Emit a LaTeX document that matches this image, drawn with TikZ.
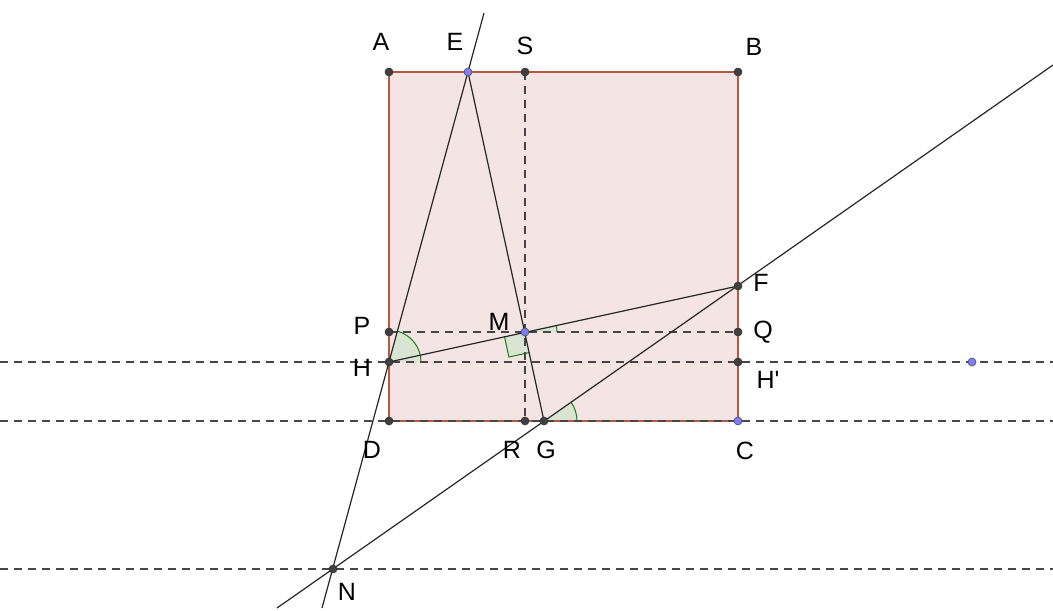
\documentclass[tikz,border=0pt]{standalone}
\usepackage{fontspec}
\setmainfont{Liberation Sans}[Ligatures=TeXOff]
\usetikzlibrary{calc}
\definecolor{sqfill}{RGB}{244,229,228}
\definecolor{sqedge}{RGB}{185,88,66}
\definecolor{angfill}{RGB}{218,228,210}
\definecolor{angedge}{RGB}{20,130,20}
\definecolor{ptdark}{RGB}{64,64,64}
\definecolor{ptblue}{RGB}{125,125,255}
\definecolor{dashcol}{RGB}{70,70,70}
\begin{document}
\begin{tikzpicture}[x=0.5pt,y=-0.5pt,
  thin line/.style={line width=0.6pt,black!85},
  dline/.style={line width=0.6pt,dashcol,dash pattern=on 4pt off 3pt},
  dpt/.style={circle,fill=ptdark,draw=black!80,line width=0.3pt,inner sep=0pt,minimum size=4pt},
  bpt/.style={circle,fill=ptblue,draw=black!70,line width=0.3pt,inner sep=0pt,minimum size=4pt},
  lab/.style={font=\fontsize{12.5}{14}\selectfont,inner sep=0pt},
  angsec/.style={fill=angfill,draw=none},
  angarc/.style={draw=angedge,line width=0.5pt}]
\useasboundingbox (0,0) rectangle (1053,610);
% coordinates
\coordinate (A) at (389,72);
\coordinate (B) at (738,72);
\coordinate (C) at (738,421);
\coordinate (D) at (389,421);
\coordinate (E) at (468,72);
\coordinate (S) at (525,72);
\coordinate (F) at (738,286);
\coordinate (P) at (389,332);
\coordinate (Q) at (738,332);
\coordinate (M) at (525,332);
\coordinate (H) at (389,362);
\coordinate (Hp) at (738,362);
\coordinate (R) at (525,421);
\coordinate (G) at (544,421);
\coordinate (N) at (333,569);
\coordinate (X) at (972,362);
\coordinate (Etop) at (484,13);
\coordinate (Nbot) at (322,608);
\coordinate (Lbot) at (277,608);
\coordinate (Ltop) at (1053,65);
\coordinate (L1a) at (0,362); \coordinate (L1b) at (1053,362);
\coordinate (L2a) at (0,421); \coordinate (L2b) at (1053,421);
\coordinate (L3a) at (0,569); \coordinate (L3b) at (1053,569);
% square
\fill[sqfill] (A) -- (B) -- (C) -- (D) -- cycle;
% angle sectors
\fill[angsec] (H) -- ++(32,0) arc[start angle=0,end angle=-74.76,radius=32] -- cycle;
\draw[angarc] ($(H)+(32,0)$) arc[start angle=0,end angle=-74.76,radius=32];
\fill[angsec] (M) -- ++(32,0) arc[start angle=0,end angle=-12.19,radius=32] -- cycle;
\draw[angarc] ($(M)+(32,0)$) arc[start angle=0,end angle=-12.19,radius=32];
\fill[angsec] (G) -- ++(33,0) arc[start angle=0,end angle=-34.83,radius=33] -- cycle;
\draw[angarc] ($(G)+(33,0)$) arc[start angle=0,end angle=-34.83,radius=33];
\coordinate (M1) at ($(M)!10.5pt!(H)$);
\coordinate (M2) at ($(M)!10.5pt!(G)$);
\coordinate (M3) at ($(M1)+(M2)-(M)$);
\fill[angsec] (M) -- (M1) -- (M3) -- (M2) -- cycle;
\draw[angarc] (M1) -- (M3) -- (M2);
% square edges
\draw[sqedge,line width=0.65pt] (A) -- (B) -- (C) -- (D) -- cycle;
% dashed lines
\draw[dline] (L1a) -- (L1b);
\draw[dline] (L2a) -- (L2b);
\draw[dline] (L3a) -- (L3b);
\draw[dline] (P) -- (Q);
\draw[dline] (S) -- (R);
% solid lines
\draw[thin line] (Etop) -- (Nbot);
\draw[thin line] (Lbot) -- (Ltop);
\draw[thin line] (E) -- (G);
\draw[thin line] (H) -- (F);
% points
\foreach \p in {A,B,D,S,F,P,Q,H,Hp,R,G,N} \node[dpt] at (\p) {};
\foreach \p in {E,M,C,X} \node[bpt] at (\p) {};
% labels
\node[lab] (lA) at (381,42) {A};
\node[lab] (lE) at (455,42) {E};
\node[lab] (lS) at (525,46) {S};
\node[lab] (lB) at (754,47) {B};
\node[lab] (lF) at (761,283) {F};
\node[lab] (lP) at (362,326) {P};
\node[lab] (lM) at (499,322) {M};
\node[lab] (lQ) at (763,332) {Q};
\node[lab] (lH) at (362,368) {H};
\node[lab] (lHp) at (768,380) {H'};
\node[lab] (lD) at (372,450) {D};
\node[lab] (lR) at (512,450) {R};
\node[lab] (lG) at (546,450) {G};
\node[lab] (lC) at (745,451) {C};
\node[lab] (lN) at (347,592) {N};
\end{tikzpicture}
\end{document}
